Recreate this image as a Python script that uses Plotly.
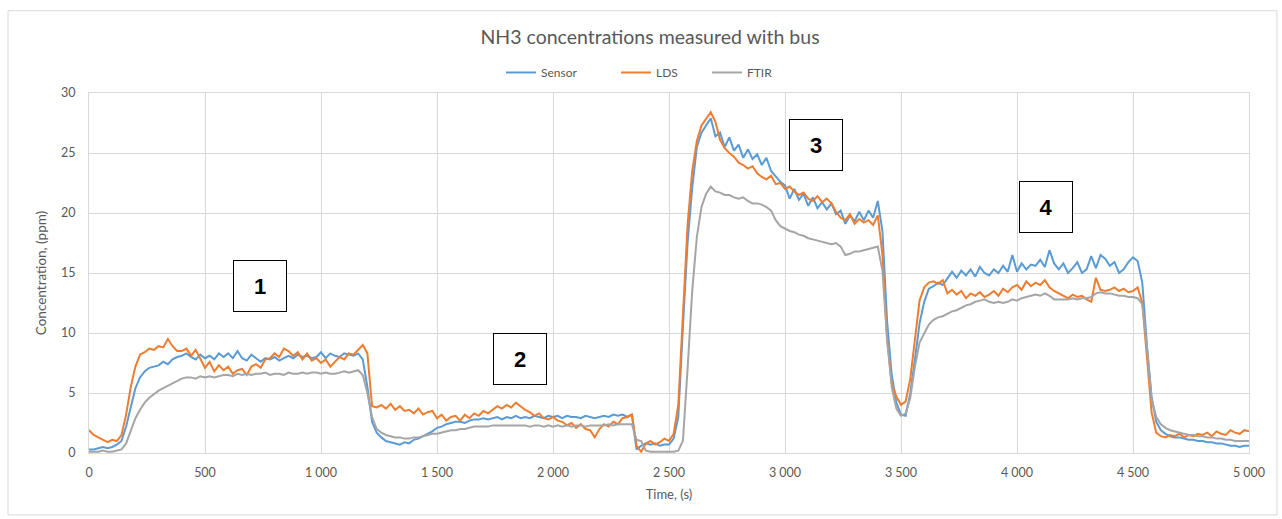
import plotly.graph_objects as go

# Sampling of the recorded time axis (s)
time_s = list(range(0, 5001, 20))

# Values (ppm), one row per 200 s
sensor = [
    0.3, 0.3, 0.4, 0.5, 0.4, 0.5, 0.7, 1.0, 2.2, 3.9,
    5.4, 6.3, 6.8, 7.1, 7.2, 7.3, 7.6, 7.4, 7.8, 8.0,
    8.1, 8.3, 8.0, 7.8, 8.2, 7.9, 8.1, 7.8, 8.3, 8.0,
    8.3, 7.9, 8.5, 7.9, 7.7, 8.2, 7.9, 7.6, 7.9, 7.8,
    8.0, 7.7, 7.9, 8.1, 7.9, 8.2, 8.0, 8.1, 7.9, 8.0,
    8.4, 7.9, 8.3, 8.1, 8.0, 8.3, 8.2, 8.1, 8.3, 7.8,
    5.5, 2.6, 1.7, 1.3, 1.0, 0.9, 0.8, 0.7, 0.9, 0.8,
    1.1, 1.2, 1.4, 1.6, 1.8, 2.1, 2.2, 2.4, 2.5, 2.6,
    2.6, 2.5, 2.7, 2.8, 2.8, 2.9, 2.8, 2.9, 3.0, 2.8,
    3.0, 2.9, 3.1, 2.9, 3.0, 2.9, 3.1, 3.0, 2.9, 3.1,
    3.0, 3.1, 2.9, 3.1, 3.0, 3.0, 2.9, 3.1, 3.0, 2.9,
    3.0, 3.1, 3.0, 3.2, 3.1, 3.2, 3.0, 3.2, 0.3, 0.6,
    0.8, 0.7, 0.8, 0.6, 0.7, 0.7, 1.2, 3.0, 10.5, 17.5,
    22.1, 25.5, 26.7, 27.3, 27.9, 26.4, 26.7, 25.5, 26.3, 25.2,
    25.7, 24.6, 25.3, 24.5, 24.9, 24.0, 24.6, 23.5, 23.0, 22.6,
    22.3, 21.2, 22.0, 21.1, 21.6, 20.6, 21.3, 20.4, 20.9, 20.3,
    20.8, 19.9, 20.2, 19.1, 19.8, 19.3, 20.1, 19.4, 20.2, 19.6,
    21.0, 18.5, 11.0, 6.5, 4.2, 3.2, 3.1, 5.0, 7.8, 10.8,
    12.6, 13.7, 13.9, 14.2, 14.0, 14.5, 15.1, 14.6, 15.2, 14.8,
    15.3, 14.7, 15.5, 15.0, 14.8, 15.3, 15.0, 15.6, 15.1, 16.5,
    15.1, 15.8, 15.3, 15.7, 15.6, 16.1, 15.5, 16.9, 15.8, 15.3,
    15.8, 15.0, 15.4, 15.9, 15.0, 15.3, 16.4, 15.4, 16.5, 16.2,
    15.6, 15.9, 15.0, 15.3, 15.9, 16.3, 16.0, 14.2, 9.0, 4.7,
    2.6, 1.9, 1.6, 1.4, 1.3, 1.3, 1.2, 1.1, 1.1, 1.0,
    1.0, 0.9, 0.9, 0.8, 0.8, 0.7, 0.6, 0.6, 0.5, 0.6,
    0.6,
]

lds = [
    1.9, 1.5, 1.3, 1.1, 0.9, 1.1, 1.0, 1.5, 3.2, 5.5,
    7.2, 8.2, 8.4, 8.7, 8.6, 8.9, 8.8, 9.5, 8.9, 8.5,
    8.5, 8.7, 8.1, 8.6, 7.9, 7.1, 7.6, 6.8, 7.3, 6.9,
    7.2, 6.6, 6.9, 7.0, 6.5, 7.2, 7.4, 7.1, 7.8, 7.9,
    8.3, 8.0, 8.7, 8.5, 8.1, 8.4, 7.8, 8.3, 7.7, 7.9,
    7.5, 7.8, 7.2, 7.6, 8.0, 7.8, 8.3, 8.2, 8.6, 9.0,
    8.3, 3.9, 3.8, 4.0, 3.7, 4.1, 3.6, 3.9, 3.5, 3.6,
    3.3, 3.7, 3.2, 3.4, 3.5, 2.9, 3.2, 2.7, 3.0, 3.1,
    2.7, 3.2, 2.9, 3.3, 3.1, 3.5, 3.3, 3.6, 3.9, 3.7,
    4.0, 3.8, 4.2, 3.9, 3.6, 3.4, 3.1, 3.3, 2.9, 2.8,
    3.0, 2.7, 2.6, 2.3, 2.5, 2.1, 2.4, 2.0, 1.9, 1.3,
    2.0, 2.4, 2.2, 2.6, 2.4, 2.9, 3.0, 3.2, 0.6, 0.1,
    0.8, 1.0, 0.7, 0.9, 1.2, 1.0, 1.6, 4.0, 11.5, 19.0,
    23.5, 26.0, 27.3, 27.9, 28.4, 27.6, 26.1, 25.4, 25.0, 24.7,
    24.2, 24.0, 23.7, 23.9, 23.3, 23.0, 22.8, 23.1, 22.4, 22.5,
    22.0, 22.2, 21.8, 21.5, 21.7, 21.2, 21.0, 21.4, 20.9, 21.2,
    20.8, 20.1, 19.6, 19.4, 19.9, 19.1, 19.5, 19.2, 19.4, 19.0,
    19.8, 16.5, 9.5, 5.8, 4.7, 4.0, 4.3, 6.2, 9.5, 12.7,
    13.8, 14.2, 14.3, 14.1, 14.4, 13.3, 13.6, 13.2, 13.5, 12.9,
    13.3, 13.1, 13.4, 13.0, 13.2, 13.5, 13.1, 13.7, 13.4, 13.8,
    14.0, 13.6, 14.3, 13.9, 14.2, 14.0, 14.4, 13.8, 13.5, 13.3,
    13.1, 12.9, 13.2, 13.0, 13.1, 12.8, 12.6, 14.6, 13.6, 13.5,
    13.6, 13.8, 13.5, 13.7, 13.4, 13.5, 13.8, 12.5, 8.0, 3.4,
    1.7, 1.4, 1.3, 1.5, 1.4, 1.6, 1.3, 1.5, 1.4, 1.6,
    1.5, 1.7, 1.4, 1.8, 1.6, 1.5, 1.9, 1.7, 1.6, 1.9,
    1.8,
]

ftir = [
    0.1, 0.1, 0.1, 0.2, 0.1, 0.1, 0.2, 0.3, 0.8, 1.8,
    2.9, 3.6, 4.2, 4.6, 4.9, 5.2, 5.4, 5.6, 5.8, 6.0,
    6.2, 6.3, 6.3, 6.2, 6.4, 6.3, 6.4, 6.3, 6.4, 6.5,
    6.5, 6.4, 6.6, 6.5, 6.6, 6.5, 6.6, 6.6, 6.7, 6.5,
    6.6, 6.6, 6.5, 6.7, 6.6, 6.6, 6.7, 6.6, 6.7, 6.7,
    6.6, 6.7, 6.6, 6.6, 6.7, 6.8, 6.7, 6.8, 6.9, 6.5,
    5.0, 3.0, 2.0, 1.7, 1.5, 1.4, 1.3, 1.3, 1.2, 1.2,
    1.3, 1.3, 1.4, 1.5, 1.6, 1.6, 1.7, 1.8, 1.9, 1.9,
    2.0, 2.0, 2.1, 2.2, 2.2, 2.2, 2.2, 2.3, 2.3, 2.3,
    2.3, 2.3, 2.3, 2.3, 2.3, 2.2, 2.3, 2.3, 2.2, 2.3,
    2.2, 2.3, 2.2, 2.3, 2.2, 2.3, 2.3, 2.2, 2.3, 2.3,
    2.3, 2.3, 2.4, 2.3, 2.4, 2.4, 2.4, 2.4, 1.1, 1.0,
    0.2, 0.1, 0.1, 0.1, 0.1, 0.1, 0.1, 0.2, 1.0, 7.0,
    13.5, 18.0, 20.5, 21.6, 22.2, 21.8, 21.7, 21.5, 21.5, 21.3,
    21.2, 21.3, 21.0, 20.8, 20.8, 20.7, 20.5, 20.2, 19.4, 18.9,
    18.7, 18.5, 18.4, 18.2, 18.1, 17.9, 17.8, 17.7, 17.6, 17.5,
    17.4, 17.5, 17.2, 16.5, 16.6, 16.8, 16.8, 16.9, 17.0, 17.1,
    17.2, 15.2, 9.5, 5.5, 3.7, 3.1, 3.3, 4.6, 7.2, 9.2,
    9.9, 10.7, 11.1, 11.3, 11.4, 11.6, 11.8, 11.9, 12.1, 12.3,
    12.4, 12.6, 12.7, 12.8, 12.6, 12.5, 12.6, 12.5, 12.6, 12.8,
    12.7, 12.9, 13.0, 13.1, 13.2, 13.1, 13.3, 13.1, 12.8, 12.8,
    12.8, 12.8, 12.9, 12.8, 12.9, 12.9, 13.0, 13.3, 13.4, 13.3,
    13.3, 13.2, 13.1, 13.1, 13.0, 13.0, 12.9, 12.4, 8.8, 4.5,
    3.0, 2.4, 2.1, 1.9, 1.8, 1.7, 1.6, 1.5, 1.5, 1.4,
    1.4, 1.3, 1.3, 1.2, 1.2, 1.1, 1.1, 1.0, 1.0, 1.0,
    1.0,
]

series_names = ["Sensor", "LDS", "FTIR"]
series_colors = ["#5B9BD5", "#ED7D31", "#A5A5A5"]
legend_widths = [70, 46, 34]

# Numbered phase labels: text, time (s), concentration (ppm)
label_text = ["1", "2", "3", "4"]
label_x = [737, 1856, 3134, 4125]
label_y = [13.9, 7.8, 25.7, 20.5]

FONT = "Lato"
GRID = "#D9D9D9"
TXT = "#595959"

fig = go.Figure()
for name, color, vals, lw in zip(series_names, series_colors,
                                 [sensor, lds, ftir], legend_widths):
    fig.add_trace(go.Scatter(
        x=time_s, y=vals, mode="lines", name=name,
        line=dict(color=color, width=2), legendwidth=lw,
    ))

for t, xv, yv in zip(label_text, label_x, label_y):
    fig.add_annotation(
        x=xv, y=yv, xref="x", yref="y", text="<b>" + t + "</b>",
        showarrow=False, font=dict(family="Arial", size=22, color="#000000"),
        bgcolor="#FFFFFF", bordercolor="#000000", borderwidth=1,
        width=50, height=48, borderpad=1,
    )

# Outer chart border
fig.add_shape(type="rect", xref="paper", yref="paper",
              x0=-0.0698, x1=1.0241, y0=-0.172, y1=1.2286,
              line=dict(color=GRID, width=1), fillcolor="rgba(0,0,0,0)",
              layer="below")

fig.update_layout(
    width=1282, height=519,
    margin=dict(l=89, r=33, t=93, b=66),
    paper_bgcolor="#FFFFFF", plot_bgcolor="#FFFFFF",
    separators=". ",
    font=dict(family=FONT, color=TXT),
    title=dict(text="NH3 concentrations measured with bus",
               x=650 / 1282, xanchor="center", xref="container",
               y=1 - 37 / 519, yanchor="middle", yref="container",
               font=dict(family=FONT, size=19.5, color=TXT)),
    legend=dict(orientation="h", x=(501 - 89) / 1160, xanchor="left",
                y=1.057, yanchor="middle", font=dict(size=12, color=TXT),
                itemwidth=30, bgcolor="rgba(0,0,0,0)"),
    showlegend=True,
)

fig.update_xaxes(
    range=[0, 5000], dtick=500, tick0=0, tickformat=",d",
    showgrid=True, gridcolor=GRID, gridwidth=1,
    showline=True, linecolor=GRID, linewidth=1, mirror=True,
    zeroline=False, ticks="", ticklabelstandoff=8,
    tickfont=dict(size=12.5, color=TXT),
    title=dict(text="Time, (s)", font=dict(size=13, color=TXT), standoff=10),
)
fig.update_yaxes(
    range=[0, 30], dtick=5, tick0=0,
    showgrid=True, gridcolor=GRID, gridwidth=1,
    showline=True, linecolor=GRID, linewidth=1, mirror=True,
    zeroline=False, ticks="", ticklabelstandoff=10,
    tickfont=dict(size=12.5, color=TXT),
    title=dict(text="Concentration, (ppm)", font=dict(size=13.5, color=TXT), standoff=11),
)

fig.write_html("out.html")
